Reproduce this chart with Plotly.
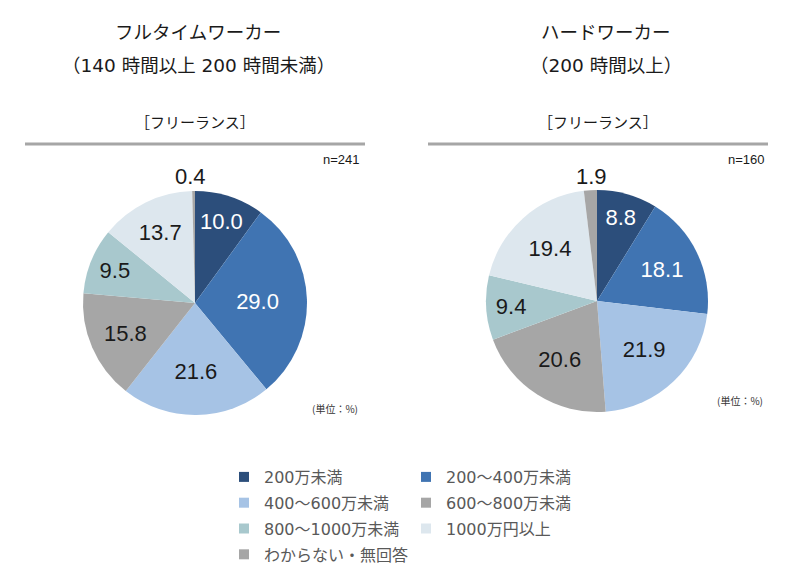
import plotly.graph_objects as go

# ---- data ----
categories = ["200万未満", "200～400万未満", "400～600万未満", "600～800万未満",
              "800～1000万未満", "1000万円以上", "わからない・無回答"]
fulltime_values = [10.0, 29.0, 21.6, 15.8, 9.5, 13.7, 0.4]
hard_values = [8.8, 18.1, 21.9, 20.6, 9.4, 19.4, 1.9]
fulltime_n = "n=241"
hard_n = "n=160"
title_left = ["フルタイムワーカー", "（140 時間以上 200 時間未満）"]
title_right = ["ハードワーカー", "（200 時間以上）"]
subtitle = "［フリーランス］"
unit_label = "(単位：%)"

# ---- style ----
colors = ["#2c4e7b", "#4074b2", "#a6c3e5", "#a6a6a6", "#a8c8cd", "#dde7ee", "#a6a6a6"]
text_colors = ["#ffffff", "#ffffff", "#1a1a1a", "#1a1a1a", "#1a1a1a", "#1a1a1a", "#1a1a1a"]
num_font = "Liberation Sans, Arial, sans-serif"
jp_font = "DejaVu Sans, Noto Sans CJK JP, sans-serif"
PAGE_OFF = 8           # default body margin of the html page
FW, FH = 784, 569      # figure size so that figure + body margin = 800 x 585


def px_x(x):
    return (x - PAGE_OFF) / FW


def px_y(y):
    return (FH - (y - PAGE_OFF)) / FH


fig = go.Figure()

textpos = ["inside"] * 6 + ["none"]


def add_pie(values, cx, cy, r):
    fig.add_trace(go.Pie(
        labels=categories, values=values, sort=False, direction="clockwise",
        rotation=0, hole=0,
        marker=dict(colors=colors, line=dict(width=0)),
        texttemplate="%{value:.1f}", textposition=textpos,
        insidetextorientation="horizontal",
        textfont=dict(family=num_font, size=22, color=text_colors),
        domain=dict(x=[px_x(cx - r), px_x(cx + r)], y=[px_y(cy + r), px_y(cy - r)]),
        showlegend=False, hoverinfo="label+value",
    ))


add_pie(fulltime_values, 195, 303, 112)
add_pie(hard_values, 597, 301, 111)

# legend entries (two columns)
for i, (lab, col) in enumerate(zip(categories, colors)):
    fig.add_trace(go.Scatter(
        x=[None], y=[None], mode="markers", name=lab,
        marker=dict(symbol="square", size=10, color=col),
        legend="legend" if i % 2 == 0 else "legend2",
        legendgroup=f"g{i}", showlegend=True,
    ))

legend_common = dict(
    font=dict(family=jp_font, size=16, color="#595959"),
    bgcolor="rgba(0,0,0,0)", orientation="v", yanchor="top", xanchor="left",
    tracegroupgap=2, itemclick=False, itemdoubleclick=False,
)

annotations = []
for i, t in enumerate(title_left):
    annotations.append(dict(text=t, x=px_x(198), y=px_y(32 + 33 * i),
                            font=dict(family=jp_font, size=18.5, color="#1a1a1a")))
for i, t in enumerate(title_right):
    annotations.append(dict(text=t, x=px_x(606), y=px_y(32 + 33 * i),
                            font=dict(family=jp_font, size=18.5, color="#1a1a1a")))
for cx in (195, 598):
    annotations.append(dict(text=subtitle, x=px_x(cx), y=px_y(123),
                            font=dict(family=jp_font, size=15, color="#1a1a1a")))
# small slices labelled above the pie
annotations.append(dict(text=f"{fulltime_values[-1]:.1f}", x=px_x(190), y=px_y(177),
                        font=dict(family=num_font, size=22, color="#1a1a1a")))
annotations.append(dict(text=f"{hard_values[-1]:.1f}", x=px_x(591), y=px_y(176),
                        font=dict(family=num_font, size=22, color="#1a1a1a")))
annotations.append(dict(text=fulltime_n, x=px_x(362), y=px_y(160), xanchor="right",
                        font=dict(family=num_font, size=13, color="#1a1a1a")))
annotations.append(dict(text=hard_n, x=px_x(767), y=px_y(160), xanchor="right",
                        font=dict(family=num_font, size=13, color="#1a1a1a")))
annotations.append(dict(text=unit_label, x=px_x(360), y=px_y(408), xanchor="right",
                        font=dict(family="Noto Sans CJK JP, sans-serif", size=10, color="#333333")))
annotations.append(dict(text=unit_label, x=px_x(765), y=px_y(400), xanchor="right",
                        font=dict(family="Noto Sans CJK JP, sans-serif", size=10, color="#333333")))
for a in annotations:
    a.setdefault("xanchor", "center")
    a.update(xref="paper", yref="paper", showarrow=False, yanchor="middle")

shapes = [
    dict(type="line", xref="paper", yref="paper", x0=px_x(25), x1=px_x(365),
         y0=px_y(144), y1=px_y(144), line=dict(color="#a6a6a6", width=3)),
    dict(type="line", xref="paper", yref="paper", x0=px_x(428), x1=px_x(768),
         y0=px_y(144), y1=px_y(144), line=dict(color="#a6a6a6", width=3)),
]

fig.update_layout(
    width=FW, height=FH, margin=dict(l=0, r=0, t=0, b=0),
    paper_bgcolor="white", plot_bgcolor="white",
    xaxis=dict(visible=False), yaxis=dict(visible=False),
    showlegend=True,
    legend=dict(x=px_x(224), y=px_y(460), **legend_common),
    legend2=dict(x=px_x(406), y=px_y(460), **legend_common),
    annotations=annotations, shapes=shapes,
)

fig.write_html("out.html")
